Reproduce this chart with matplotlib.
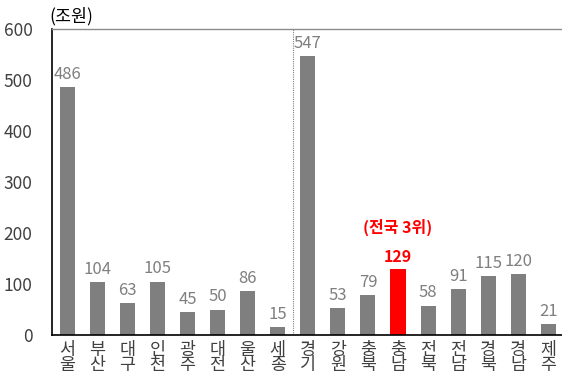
import matplotlib.pyplot as plt

plt.rcParams['font.family'] = ['Noto Sans CJK KR', 'DejaVu Sans']

# 지역별 값 (조원)
regions = ["서울", "부산", "대구", "인천", "광주", "대전", "울산", "세종",
           "경기", "강원", "충북", "충남", "전북", "전남", "경북", "경남", "제주"]
values = [486, 104, 63, 105, 45, 50, 86, 15,
          547, 53, 79, 129, 58, 91, 115, 120, 21]
highlight = "충남"

GRAY = "#7f7f7f"
RED = "#ff0000"

fig = plt.figure(figsize=(5.62, 3.87), dpi=100)
ax = fig.add_axes([0.0925, 0.134, 0.9075, 0.791])

x = list(range(len(regions)))
colors = [RED if r == highlight else GRAY for r in regions]
ax.bar(x, values, width=0.5, color=colors, zorder=2)

# 막대 위 값 표시
for xi, v, r in zip(x, values, regions):
    if r == highlight:
        ax.annotate(str(v), (xi, v), xytext=(0, 3), textcoords="offset points",
                    ha="center", va="bottom", fontsize=11.5, color=RED,
                    fontweight="bold")
        ax.annotate("(전국 3위)", (xi, v), xytext=(0, 24), textcoords="offset points",
                    ha="center", va="bottom", fontsize=11.5, color=RED,
                    fontweight="bold")
    else:
        ax.annotate(str(v), (xi, v), xytext=(0, 3), textcoords="offset points",
                    ha="center", va="bottom", fontsize=12, color=GRAY)

# 세종 / 경기 사이 구분선
ax.axvline(7.5, color="#808080", linestyle=(0, (1, 1)), linewidth=0.8, zorder=1)

ax.set_xlim(-0.5, 16.45)
ax.set_ylim(0, 600)
ax.set_yticks(range(0, 601, 100))
ax.tick_params(axis="y", length=0, labelsize=12.5, labelcolor="#404040", pad=14)
ax.tick_params(axis="x", length=0, pad=4)

# 세로쓰기 지역명
ax.set_xticks(x)
ax.set_xticklabels(["\n".join(r) for r in regions], fontsize=12.5,
                   color="#404040", linespacing=0.8, va="top")

ax.spines["right"].set_visible(False)
ax.spines["top"].set_color("#8c8c8c")
ax.spines["top"].set_linewidth(1.0)
ax.spines["left"].set_color("black")
ax.spines["bottom"].set_color("black")
ax.spines["left"].set_linewidth(1.2)
ax.spines["bottom"].set_linewidth(1.2)

fig.text(0.087, 0.958, "(조원)", fontsize=12.5, color="black", ha="left", va="center")

fig.savefig("out.png", dpi=100)
